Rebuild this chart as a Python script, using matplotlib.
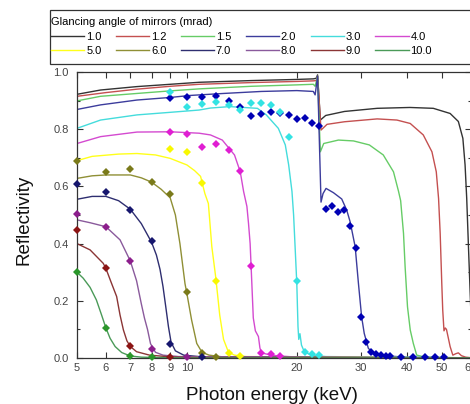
import matplotlib
matplotlib.use("Agg")
import matplotlib.pyplot as plt
from matplotlib.lines import Line2D
from matplotlib.patches import Rectangle
from matplotlib.ticker import FixedLocator, FixedFormatter, MultipleLocator, NullLocator

plt.rcParams['font.family'] = ['Liberation Sans', 'DejaVu Sans']

# ---------------- data ----------------
angles = ['1.0', '1.2', '1.5', '2.0', '3.0', '4.0', '5.0', '6.0', '7.0', '8.0', '9.0', '10.0']

e_1p0 = [5.0, 5.8, 7.3, 9.0, 10.8, 15.0, 20.0, 22.2, 22.6, 22.8, 23.2, 24.0, 27.0, 33.2, 40.8, 47.3, 52.6, 55.4, 57.0, 57.8, 58.4, 59.2, 60.0, 61.0]
r_1p0 = [0.922, 0.937, 0.949, 0.957, 0.964, 0.970, 0.974, 0.976, 0.978, 0.990, 0.832, 0.848, 0.862, 0.873, 0.876, 0.873, 0.855, 0.827, 0.768, 0.675, 0.558, 0.35, 0.15, 0.05]

e_1p2 = [5.0, 6.0, 7.3, 9.0, 10.8, 15.0, 20.0, 22.2, 22.6, 22.8, 23.3, 24.2, 27.0, 33.2, 37.6, 40.9, 44.4, 46.9, 48.2, 48.9, 49.4, 49.9, 50.2, 50.6, 51.0, 51.4, 52.0, 52.6, 53.5, 54.5, 55.4, 56.5, 58.0, 61.0]
r_1p2 = [0.915, 0.928, 0.940, 0.950, 0.957, 0.963, 0.967, 0.969, 0.970, 0.985, 0.797, 0.817, 0.826, 0.836, 0.832, 0.820, 0.780, 0.721, 0.651, 0.558, 0.436, 0.261, 0.168, 0.095, 0.105, 0.100, 0.070, 0.040, 0.010, 0.015, 0.018, 0.008, 0.003, 0.0]

e_1p5 = [5.0, 5.8, 7.3, 9.0, 10.8, 15.0, 20.0, 22.2, 22.45, 22.8, 23.2, 23.7, 26.0, 28.6, 31.6, 34.5, 36.8, 38.0, 38.5, 39.2, 39.6, 40.2, 40.9, 41.7, 42.6, 45.0, 61.0]
r_1p5 = [0.899, 0.915, 0.925, 0.934, 0.941, 0.950, 0.955, 0.957, 0.950, 0.985, 0.721, 0.750, 0.762, 0.759, 0.745, 0.710, 0.651, 0.582, 0.550, 0.436, 0.319, 0.179, 0.098, 0.051, 0.010, 0.003, 0.0]

e_2p0 = [5.0, 5.8, 7.3, 9.0, 10.2, 12.6, 16.0, 20.0, 22.2, 22.45, 22.8, 23.3, 23.6, 24.05, 25.2, 26.55, 27.4, 28.0, 28.9, 29.5, 30.1, 30.6, 31.4, 32.4, 35.3, 40.0, 61.0]
r_2p0 = [0.869, 0.885, 0.902, 0.911, 0.918, 0.925, 0.932, 0.935, 0.932, 0.920, 0.985, 0.545, 0.575, 0.593, 0.578, 0.556, 0.517, 0.476, 0.389, 0.261, 0.144, 0.086, 0.034, 0.016, 0.007, 0.003, 0.0]

e_3p0 = [5.0, 5.8, 7.3, 9.0, 10.8, 11.6, 13.1, 15.6, 16.5, 17.8, 18.6, 19.0, 19.4, 19.6, 19.8, 20.0, 20.15, 20.25, 20.4, 20.6, 21.0, 22.0, 24.0, 61.0]
r_3p0 = [0.803, 0.832, 0.850, 0.859, 0.867, 0.874, 0.879, 0.873, 0.850, 0.803, 0.745, 0.675, 0.582, 0.500, 0.380, 0.260, 0.110, 0.065, 0.085, 0.045, 0.020, 0.010, 0.005, 0.0]

e_4p0 = [5.0, 5.8, 7.3, 9.0, 10.8, 11.6, 12.5, 13.5, 14.0, 14.3, 14.6, 14.75, 14.9, 15.05, 15.2, 15.4, 15.55, 15.7, 15.85, 16.0, 17.0, 18.0, 20.0, 61.0]
r_4p0 = [0.750, 0.774, 0.790, 0.791, 0.786, 0.780, 0.762, 0.710, 0.651, 0.582, 0.530, 0.470, 0.400, 0.270, 0.140, 0.095, 0.085, 0.075, 0.035, 0.018, 0.010, 0.007, 0.003, 0.0]

e_5p0 = [5.0, 5.5, 6.5, 7.3, 8.2, 9.0, 10.0, 10.5, 10.9, 11.2, 11.45, 11.7, 12.0, 12.3, 12.6, 13.0, 13.5, 14.5, 61.0]
r_5p0 = [0.690, 0.705, 0.713, 0.715, 0.710, 0.698, 0.675, 0.655, 0.635, 0.575, 0.540, 0.390, 0.280, 0.150, 0.065, 0.020, 0.010, 0.005, 0.0]

e_6p0 = [5.0, 5.5, 6.0, 7.0, 7.5, 8.0, 8.5, 9.0, 9.3, 9.57, 9.88, 10.0, 10.3, 10.64, 11.0, 11.5, 12.5, 61.0]
r_6p0 = [0.628, 0.637, 0.640, 0.640, 0.630, 0.615, 0.590, 0.560, 0.500, 0.400, 0.260, 0.225, 0.133, 0.051, 0.020, 0.010, 0.004, 0.0]

e_7p0 = [5.0, 5.5, 6.0, 6.5, 7.0, 7.5, 8.0, 8.25, 8.44, 8.6, 8.75, 8.9, 9.05, 9.3, 9.8, 11.0, 61.0]
r_7p0 = [0.555, 0.565, 0.565, 0.550, 0.520, 0.470, 0.405, 0.360, 0.310, 0.250, 0.180, 0.110, 0.055, 0.025, 0.010, 0.004, 0.0]

e_8p0 = [5.0, 5.43, 6.0, 6.56, 7.0, 7.28, 7.5, 7.65, 7.8, 7.95, 8.2, 8.6, 9.5, 61.0]
r_8p0 = [0.483, 0.473, 0.459, 0.413, 0.339, 0.270, 0.190, 0.140, 0.100, 0.050, 0.020, 0.010, 0.005, 0.0]

e_9p0 = [5.0, 5.43, 5.9, 6.0, 6.2, 6.42, 6.56, 6.7, 6.85, 7.0, 7.28, 7.9, 9.0, 10.0, 61.0]
r_9p0 = [0.400, 0.378, 0.331, 0.313, 0.265, 0.215, 0.150, 0.098, 0.060, 0.040, 0.022, 0.010, 0.004, 0.002, 0.0]

e_10p0 = [5.0, 5.2, 5.43, 5.65, 5.84, 6.0, 6.16, 6.36, 6.63, 7.0, 7.5, 8.0, 9.0, 10.0, 61.0]
r_10p0 = [0.300, 0.279, 0.247, 0.203, 0.150, 0.105, 0.069, 0.040, 0.019, 0.007, 0.003, 0.002, 0.001, 0.0, 0.0]

# measured points (diamonds)
me_2p0 = [9, 10, 11, 12, 13, 14, 15, 16, 17, 18, 19, 20, 21, 22, 23, 24, 25, 26, 27, 28, 29, 30, 31, 32, 33, 34, 35, 36, 38.7, 41.6, 44.8, 47.9, 50.7]
mr_2p0 = [0.908, 0.912, 0.914, 0.917, 0.897, 0.876, 0.847, 0.853, 0.861, 0.855, 0.851, 0.835, 0.840, 0.823, 0.812, 0.520, 0.531, 0.512, 0.517, 0.462, 0.383, 0.142, 0.057, 0.022, 0.014, 0.010, 0.008, 0.007, 0.005, 0.004, 0.004, 0.004, 0.004]
me_3p0 = [9, 10, 11, 12, 13, 14, 15, 16, 17, 18, 19, 20, 21, 22, 23]
mr_3p0 = [0.929, 0.876, 0.888, 0.894, 0.883, 0.867, 0.891, 0.891, 0.883, 0.860, 0.772, 0.270, 0.022, 0.014, 0.010]
me_4p0 = [9, 10, 11, 12, 13, 14, 15, 16, 17, 18]
mr_4p0 = [0.791, 0.783, 0.739, 0.748, 0.726, 0.655, 0.322, 0.016, 0.013, 0.008]
me_5p0 = [9, 10, 11, 12, 13, 14]
mr_5p0 = [0.732, 0.720, 0.613, 0.269, 0.019, 0.007]
me_6p0 = [5, 6, 7, 8, 9, 10, 11, 12]
mr_6p0 = [0.689, 0.651, 0.660, 0.617, 0.572, 0.232, 0.019, 0.003]
me_7p0 = [5, 6, 7, 8, 9, 11]
mr_7p0 = [0.607, 0.579, 0.517, 0.410, 0.050, 0.003]
me_8p0 = [5, 6, 7, 8, 10]
mr_8p0 = [0.502, 0.459, 0.339, 0.031, 0.004]
me_9p0 = [5, 6, 7, 9]
mr_9p0 = [0.447, 0.313, 0.043, 0.003]
me_10p0 = [5, 6, 7, 8]
mr_10p0 = [0.300, 0.105, 0.006, 0.003]

x_ticks = [5, 6, 7, 8, 9, 10, 20, 30, 40, 50, 60]
x_ticklabels = ['5', '6', '7', '8', '9', '10', '20', '30', '40', '50', '60']
y_ticks = [0.0, 0.2, 0.4, 0.6, 0.8, 1.0]
y_ticklabels = ['0.0', '0.2', '0.4', '0.6', '0.8', '1.0']

# ---------------- styles ----------------
line_colors = ['#333333', '#c45050', '#66cc66', '#3c3c9c', '#44dcdc', '#d44ad0',
               '#ffff1a', '#8f8f35', '#2e2e70', '#8a5a9c', '#8b3535', '#4a9a58']
marker_colors = {'2.0': '#0000b4', '3.0': '#33e3e3', '4.0': '#e01ed2', '5.0': '#f8f800',
                 '6.0': '#7a7a1a', '7.0': '#16166e', '8.0': '#8c1e8c', '9.0': '#8c1414',
                 '10.0': '#2a962a'}

curves = [(e_1p0, r_1p0), (e_1p2, r_1p2), (e_1p5, r_1p5), (e_2p0, r_2p0), (e_3p0, r_3p0),
          (e_4p0, r_4p0), (e_5p0, r_5p0), (e_6p0, r_6p0), (e_7p0, r_7p0), (e_8p0, r_8p0),
          (e_9p0, r_9p0), (e_10p0, r_10p0)]
points = [('2.0', me_2p0, mr_2p0), ('3.0', me_3p0, mr_3p0), ('4.0', me_4p0, mr_4p0),
          ('5.0', me_5p0, mr_5p0), ('6.0', me_6p0, mr_6p0), ('7.0', me_7p0, mr_7p0),
          ('8.0', me_8p0, mr_8p0), ('9.0', me_9p0, mr_9p0), ('10.0', me_10p0, mr_10p0)]

W, H = 470, 404
fig = plt.figure(figsize=(W / 100, H / 100), dpi=100)
ax = fig.add_axes([77 / W, (H - 358) / H, 394 / W, 286 / H])

handles = []
for (e, r), c, lab in zip(curves, line_colors, angles):
    ln, = ax.plot(e, r, color=c, lw=1.0, label=lab, zorder=2)
    handles.append(ln)

for key, e, r in points:
    ax.plot(e, r, linestyle='none', marker='D', ms=3.8, mew=0,
            color=marker_colors[key], zorder=3, clip_on=False)

ax.set_xscale('log')
ax.set_xlim(5, 60)
ax.set_ylim(0, 1.0)
ax.xaxis.set_major_locator(FixedLocator(x_ticks))
ax.xaxis.set_major_formatter(FixedFormatter(x_ticklabels))
ax.xaxis.set_minor_locator(NullLocator())
ax.yaxis.set_major_locator(FixedLocator(y_ticks))
ax.yaxis.set_major_formatter(FixedFormatter(y_ticklabels))
ax.yaxis.set_minor_locator(MultipleLocator(0.1))

ax.tick_params(which='both', direction='in', top=True, right=True,
               color='#333333', width=0.8, labelcolor='#444444', labelsize=8)
ax.tick_params(which='major', length=4)
ax.tick_params(which='minor', length=2.5)
ax.tick_params(axis='y', pad=6)
ax.tick_params(axis='x', pad=3.5)
for sp in ax.spines.values():
    sp.set_color('#333333')
    sp.set_linewidth(0.9)

fig.text(272 / W, (H - 400) / H, 'Photon energy (keV)', ha='center', va='baseline',
         fontsize=13.5, color='#111111')
fig.text(24 / W, 1 - 220 / H, 'Reflectivity', ha='center', va='center',
         rotation=90, fontsize=13.5, color='#111111')

# legend box
fig.add_artist(Rectangle((50 / W, 1 - 64 / H), (W + 10 - 50) / W, 54 / H,
                         transform=fig.transFigure, facecolor='white',
                         edgecolor='#333333', linewidth=0.9, zorder=4))
order = [0, 6, 1, 7, 2, 8, 3, 9, 4, 10, 5, 11]
leg = fig.legend([handles[i] for i in order], [angles[i] for i in order], ncol=6,
                 loc='upper left', bbox_to_anchor=(50 / W, 1 - 16 / H),
                 frameon=False, title='Glancing angle of mirrors (mrad)',
                 alignment='left', fontsize=8, title_fontsize=8,
                 handlelength=3.0, handletextpad=0.15, columnspacing=1.3,
                 labelspacing=0.4, borderpad=0.1, borderaxespad=0)
leg.set_zorder(5)

fig.savefig('out.png', dpi=100)
